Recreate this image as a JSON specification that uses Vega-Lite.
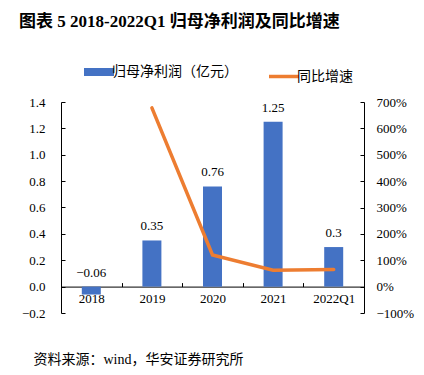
{
  "$schema": "https://vega.github.io/schema/vega-lite/v6.json",
  "width": 303,
  "height": 211,
  "autosize": "none",
  "padding": {"left": 61, "top": 102, "right": 60, "bottom": 62},
  "background": "white",
  "config": {
    "view": {"stroke": null},
    "font": "Liberation Serif",
    "axis": {"grid": false, "domainColor": "black", "tickColor": "black", "labelColor": "black", "labelFont": "Liberation Serif", "labelFontSize": 13, "domainWidth": 1, "tickWidth": 1, "labelOverlap": false}
  },
  "title": {
    "text": "图表 5 2018-2022Q1 归母净利润及同比增速",
    "anchor": "start",
    "frame": "group",
    "dx": -42,
    "offset": 34,
    "fontSize": 17,
    "fontWeight": "bold",
    "font": "Liberation Serif, Noto Sans CJK SC",
    "color": "black"
  },
  "data": {
    "values": [
      {"year": "2018", "profit": -0.06, "growth": null},
      {"year": "2019", "profit": 0.35, "growth": 6.78},
      {"year": "2020", "profit": 0.76, "growth": 1.2},
      {"year": "2021", "profit": 1.25, "growth": 0.62},
      {"year": "2022Q1", "profit": 0.3, "growth": 0.65}
    ]
  },
  "encoding": {
    "x": {
      "field": "year",
      "type": "nominal",
      "sort": null,
      "scale": {"paddingInner": 0, "paddingOuter": 0},
      "axis": {
        "offset": -26.4,
        "labelAngle": 0,
        "tickSize": -4,
        "tickBand": "extent",
        "labelPadding": 10,
        "title": "资料来源：wind，华安证券研究所",
        "titleFont": "Liberation Serif, Noto Sans CJK SC",
        "titleFontSize": 14,
        "titleFontWeight": "normal",
        "titleColor": "black",
        "titleAnchor": "start",
        "titleAlign": "left",
        "titleBaseline": "alphabetic",
        "titleX": -28,
        "titleY": 77
      }
    }
  },
  "layer": [
    {
      "layer": [
        {
          "mark": {"type": "bar", "size": 19},
          "encoding": {
            "y": {
              "field": "profit",
              "type": "quantitative",
              "scale": {"domain": [-0.2, 1.4], "nice": false, "zero": false},
              "axis": {"values": [-0.2, 0, 0.2, 0.4, 0.6, 0.8, 1.0, 1.2, 1.4], "format": ".1f", "title": null, "tickSize": -4, "labelPadding": 20, "labelOverlap": false}
            },
            "color": {
              "datum": "归母净利润（亿元）",
              "scale": {"domain": ["归母净利润（亿元）", "同比增速"], "range": ["#4472C4", "#ED7D31"]},
              "legend": {
                "title": null,
                "orient": "none",
                "legendX": 31,
                "legendY": -37,
                "direction": "horizontal",
                "symbolType": "stroke",
                "symbolSize": 900,
                "labelFont": "Liberation Serif, Noto Sans CJK SC",
                "labelFontSize": 14,
                "labelColor": "black",
                "columnPadding": 24,
                "labelOffset": 6,
                "encode": {
                  "symbols": {
                    "update": {
                      "strokeWidth": {"signal": "datum.value === '同比增速' ? 3.5 : 8"},
                      "stroke": {"signal": "datum.value === '同比增速' ? '#ED7D31' : '#4472C4'"}
                    }
                  }
                }
              }
            }
          }
        },
        {
          "transform": [{"calculate": "max(datum.profit, 0)", "as": "labelY"}],
          "mark": {"type": "text", "dy": -10, "baseline": "alphabetic", "fontSize": 13, "font": "Liberation Serif", "color": "black"},
          "encoding": {
            "y": {
              "field": "labelY",
              "type": "quantitative",
              "axis": {"values": [-0.2, 0, 0.2, 0.4, 0.6, 0.8, 1.0, 1.2, 1.4], "format": ".1f", "title": null, "tickSize": -4, "labelPadding": 20, "labelOverlap": false}
            },
            "text": {"field": "profit", "type": "quantitative"}
          }
        }
      ]
    },
    {
      "mark": {"type": "line", "strokeWidth": 3.5, "strokeCap": "round"},
      "encoding": {
        "y": {
          "field": "growth",
          "type": "quantitative",
          "scale": {"domain": [-1, 7], "nice": false, "zero": false},
          "axis": {"orient": "right", "values": [-1, 0, 1, 2, 3, 4, 5, 6, 7], "format": ".0%", "title": null, "tickSize": -4, "labelPadding": 16, "labelOverlap": false}
        },
        "color": {"datum": "同比增速"}
      }
    }
  ],
  "resolve": {"scale": {"y": "independent"}}
}
